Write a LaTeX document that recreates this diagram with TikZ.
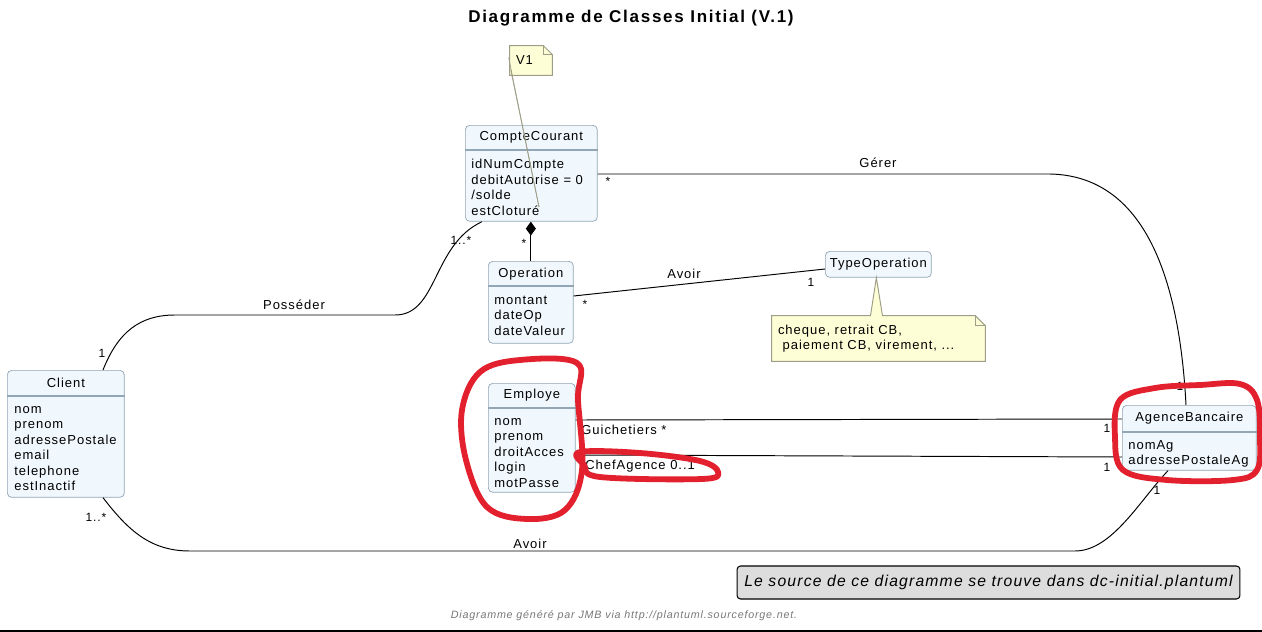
\documentclass[tikz,border=0pt]{standalone}
\usepackage{fontspec}
\setmainfont{Liberation Sans}
\newfontfamily\umlfont[LetterSpace=7.5]{Liberation Sans}
\newfontfamily\titlefont[LetterSpace=10]{Liberation Sans}
\usetikzlibrary{arrows.meta,calc}

\definecolor{classfill}{HTML}{F0F7FD}
\definecolor{classline}{HTML}{93A6B5}
\definecolor{notefill}{HTML}{FEFED6}
\definecolor{noteline}{HTML}{9E9E88}
\definecolor{markred}{HTML}{E3202E}
\definecolor{boxgrey}{HTML}{DDDDDD}
\definecolor{footgrey}{HTML}{777777}

\tikzset{
  classbox/.style={draw=classline, fill=classfill, rounded corners=2.5pt, anchor=north west, inner sep=0pt},
  classname/.style={font=\umlfont\fontsize{7.4}{9}\selectfont, inner sep=0pt},
  attrs/.style={font=\umlfont\fontsize{7.4}{8.8}\selectfont, align=left, anchor=north west, inner sep=0pt},
  sep/.style={draw=classline, line width=0.6pt},
  assoc/.style={draw=black, line width=0.55pt},
  mult/.style={font=\umlfont\fontsize{6.8}{8}\selectfont, inner sep=0pt},
  rolelabel/.style={font=\umlfont\fontsize{7.4}{9}\selectfont, inner sep=0pt},
  notebox/.style={draw=noteline, fill=notefill, line width=0.55pt},
  notetext/.style={font=\umlfont\fontsize{7.4}{8.8}\selectfont, align=left, anchor=west, inner sep=0pt},
  redmark/.style={draw=markred, line width=3.3pt, line cap=round, line join=round},
}

\begin{document}
\begin{tikzpicture}[x=0.02cm, y=-0.02cm]
\useasboundingbox (0,0) rectangle (1262,632);

% titre
\node[font=\titlefont\bfseries\fontsize{9.7}{12}\selectfont] (title) at (631,18) {Diagramme de Classes Initial (V.1)};

% CompteCourant
\node[classbox, minimum width=2.64cm, minimum height=1.92cm] (cc) at (465,125) {};
\node[classname] (ccname) at ($(cc.north)+(0,12.5)$) {CompteCourant};
\draw[sep] ($(cc.north west)+(0,25)$) -- ($(cc.north east)+(0,25)$);
\node[attrs] (ccattr) at ($(cc.north west)+(6,34)$) {idNumCompte\\debitAutorise = 0\\/solde\\estCloturé};

% Operation
\node[classbox, minimum width=1.70cm, minimum height=1.64cm] (op) at (488,261) {};
\node[classname] (opname) at ($(op.north)+(0,13)$) {Operation};
\draw[sep] ($(op.north west)+(0,25)$) -- ($(op.north east)+(0,25)$);
\node[attrs] (opattr) at ($(op.north west)+(6,34.5)$) {montant\\dateOp\\dateValeur};

% TypeOperation
\node[classbox, minimum width=2.12cm, minimum height=0.52cm] (typ) at (825,251) {};
\node[classname] (typname) at (typ.center) {TypeOperation};

% Client
\node[classbox, minimum width=2.34cm, minimum height=2.54cm] (cl) at (7,370) {};
\node[classname] (clname) at ($(cl.north)+(0,13)$) {Client};
\draw[sep] ($(cl.north west)+(0,26)$) -- ($(cl.north east)+(0,26)$);
\node[attrs] (clattr) at ($(cl.north west)+(7,36)$) {nom\\prenom\\adressePostale\\email\\telephone\\estInactif};

% Employe
\node[classbox, minimum width=1.74cm, minimum height=2.18cm] (emp) at (488,383) {};
\node[classname] (empname) at ($(emp.north)+(0,12.5)$) {Employe};
\draw[sep] ($(emp.north west)+(0,25)$) -- ($(emp.north east)+(0,25)$);
\node[attrs] (empattr) at ($(emp.north west)+(6,35)$) {nom\\prenom\\droitAcces\\login\\motPasse};

% AgenceBancaire
\node[classbox, minimum width=2.68cm, minimum height=1.30cm] (ag) at (1122,405) {};
\node[classname] (agname) at ($(ag.north)+(0,13)$) {AgenceBancaire};
\draw[sep] ($(ag.north west)+(0,27)$) -- ($(ag.north east)+(0,27)$);
\node[attrs] (agattr) at ($(ag.north west)+(6,35)$) {nomAg\\adressePostaleAg};

% note V1
\node[minimum width=0.84cm, minimum height=0.58cm, inner sep=0pt] (v1) at (531,60.5) {};
\draw[notebox] (v1.north west) -- ($(v1.north east)+(-9,0)$) -- ($(v1.north east)+(0,9)$)
  -- (v1.south east) -- (v1.south west) -- cycle;
\draw[draw=noteline] ($(v1.north east)+(-9,0)$) -- ($(v1.north east)+(-9,9)$) -- ($(v1.north east)+(0,9)$);
\node[notetext] (v1text) at ($(v1.west)+(6,0)$) {V1};
\draw[draw=noteline] ($(v1.west)+(-1,-3)$) -- ($(cc.north west)+(74,82)$);
\draw[draw=noteline] ($(v1.west)+(1,9)$) -- ($(cc.north west)+(74,82)$);

% note TypeOperation
\node[minimum width=4.26cm, minimum height=0.90cm, inner sep=0pt] (tnote) at (878.5,338.5) {};
\filldraw[notebox] ($(typ.south)+(-2,0)$) -- ($(tnote.north)+(-8,0)$) -- ($(tnote.north)+(4,0)$) -- cycle;
\draw[notebox] (tnote.north west) -- ($(tnote.north east)+(-10,0)$) -- ($(tnote.north east)+(0,10)$)
  -- (tnote.south east) -- (tnote.south west) -- cycle;
\draw[draw=noteline] ($(tnote.north east)+(-10,0)$) -- ($(tnote.north east)+(-10,10)$) -- ($(tnote.north east)+(0,10)$);
\fill[notefill] ($(tnote.north)+(-7.2,-0.8)$) rectangle ($(tnote.north)+(3.2,1)$);
\node[notetext] (tnotetext) at ($(tnote.west)+(6,0)$) {cheque, retrait CB,\\ \ paiement CB, virement, ...};

% composition
\draw[assoc, {Diamond[length=7.9pt,width=5.7pt]}-] (cc.south -| op.north) -- (op.north);
\node[mult] (m1) at (524,243) {*};

% Avoir Operation - TypeOperation
\draw[assoc] ($(op.north east)+(0,35)$) -- ($(typ.north west)+(0,18)$);
\node[rolelabel] (avoir1) at (684,274) {Avoir};
\node[mult] (m2) at (585,304) {*};
\node[mult] (m3) at (811,282) {1};

% Posséder
\draw[assoc] ($(cl.north west)+(96,0)$) .. controls (118,332) and (140,315) .. (175,315)
  -- (395,315) .. controls (438,315) and (432,245) .. ($(cc.south west)+(17,0)$);
\node[rolelabel] (poss) at (294,305) {Posséder};
\node[mult] (m4) at (102,353) {1};
\node[mult] (m5) at (461,240) {1..*};

% Gérer
\draw[assoc] ($(cc.north east)+(0,49)$) -- (1050,174)
  .. controls (1150,176) and (1180,290) .. ($(ag.north west)+(64,0)$);
\node[rolelabel] (gerer) at (878,163) {Gérer};
\node[mult] (m6) at (608,181) {*};
\node[mult] (m7) at (1180,386) {1};

% Guichetiers / ChefAgence
\draw[assoc] ($(emp.north east)+(0,37)$) -- ($(ag.north west)+(0,14)$);
\node[rolelabel, anchor=west] (guich) at (581,430) {Guichetiers *};
\node[mult] (m8) at (1107,428) {1};
\draw[assoc] ($(emp.north east)+(0,72)$) -- ($(ag.north west)+(0,52)$);
\node[rolelabel, anchor=west] (chef) at (585,466) {ChefAgence 0..1};
\node[mult] (m9) at (1107,467) {1};

% Avoir Client - AgenceBancaire
\draw[assoc] ($(cl.south west)+(96,0)$) .. controls (128,530) and (150,551) .. (190,551)
  -- (1075,551) .. controls (1112,551) and (1140,500) .. ($(ag.south west)+(46,0)$);
\node[rolelabel] (avoir2) at (530,544) {Avoir};
\node[mult] (m10) at (96,517) {1..*};
\node[mult] (m11) at (1157,490) {1};

% legende
\node[draw=black, fill=boxgrey, rounded corners=2pt, line width=0.6pt, minimum width=10.06cm, minimum height=0.66cm,
  font=\umlfont\itshape\fontsize{8.95}{10}\selectfont, inner sep=0pt] (legend) at (988.5,582.5)
  {Le source de ce diagramme se trouve dans dc-initial.plantuml};
\node[font=\umlfont\itshape\fontsize{6.1}{7}\selectfont, text=footgrey] (footer) at (624,616)
  {Diagramme généré par JMB via http://plantuml.sourceforge.net.};
\draw[line width=1pt] (0,631) -- (1262,631);

% annotations rouges
\draw[redmark] plot[smooth cycle, tension=0.6] coordinates {(577,363) (578,400) (582,470) (565,510) (527,519) (487,507) (466,460) (462,410) (480,372) (520,360)};
\draw[redmark] plot[smooth cycle, tension=0.6] coordinates {(580,452) (640,453) (700,461) (718,472) (702,479) (600,477) (584,465)};
\draw[redmark] plot[smooth cycle, tension=0.6] coordinates {(1120,400) (1155,388) (1200,385) (1240,384) (1257,400) (1260,437) (1257,470) (1233,480) (1167,480) (1123,470) (1115,437)};

\end{tikzpicture}
\end{document}
